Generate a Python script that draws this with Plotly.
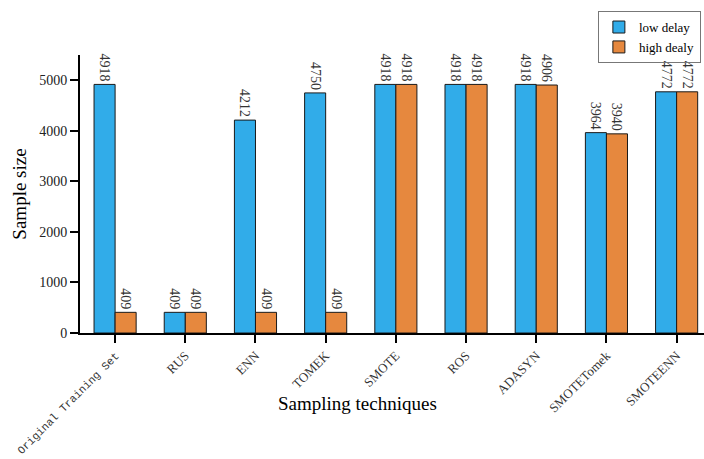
import plotly.graph_objects as go

categories = ["Original Training Set", "RUS", "ENN", "TOMEK", "SMOTE",
              "ROS", "ADASYN", "SMOTETomek", "SMOTEENN"]
low_delay = [4918, 409, 4212, 4750, 4918, 4918, 4918, 3964, 4772]
high_delay = [409, 409, 409, 409, 4918, 4918, 4906, 3940, 4772]
y_ticks = [0, 1000, 2000, 3000, 4000, 5000]

serif = "Liberation Serif, Times New Roman, serif"
mono = "Liberation Mono, Courier New, monospace"
x_idx = list(range(len(categories)))

# first label is set in a typewriter face, the rest in serif
tick_text = [f'<span style="font-family:{mono};font-size:11px">{categories[0]}</span>'] + categories[1:]


def bar_trace(values, name, color):
    return go.Bar(
        x=x_idx, y=values, name=name,
        marker=dict(color=color, line=dict(color="#1a1a1a", width=1)),
        text=[str(v) for v in values], textposition="outside", textangle=90,
        constraintext="none",
        textfont=dict(family=serif, size=14, color="#333333"), cliponaxis=False,
    )


fig = go.Figure()
fig.add_trace(bar_trace(low_delay, "low delay", "#31ACE9"))
fig.add_trace(bar_trace(high_delay, "high dealy", "#E6883E"))

fig.update_layout(
    width=704, height=459,
    barmode="group", bargap=0.4, bargroupgap=0,
    plot_bgcolor="white", paper_bgcolor="white",
    margin=dict(l=80, r=0, t=55, b=126),
    font=dict(family=serif, color="#000000"),
    legend=dict(
        x=0.995, xanchor="right", y=1.158, yanchor="top",
        bordercolor="#777777", borderwidth=1, bgcolor="rgba(255,255,255,0)",
        font=dict(family=serif, size=13), tracegroupgap=0,
        itemwidth=30,
    ),
    xaxis=dict(
        range=[-0.5, 8.39], tickmode="array", tickvals=x_idx,
        ticktext=tick_text, tickangle=-45, automargin=False,
        tickfont=dict(family=serif, size=13, color="#333333"),
        showline=True, linecolor="black", linewidth=2,
        ticks="outside", ticklen=8, tickwidth=2, tickcolor="black",
        showgrid=False, zeroline=False,
    ),
    yaxis=dict(
        range=[0, 5500], tickmode="array", tickvals=y_ticks, automargin=False,
        tickfont=dict(family=serif, size=14, color="#222222"),
        showline=True, linecolor="black", linewidth=2,
        ticks="outside", ticklen=8, tickwidth=2, tickcolor="black",
        showgrid=False, zeroline=False,
        title=dict(text="Sample size", font=dict(family=serif, size=19), standoff=8),
    ),
    annotations=[dict(
        text="Sampling techniques",
        x=(357 - 80) / (704 - 80), xref="paper",
        y=(333 - 403) / (333 - 55), yref="paper",
        xanchor="center", yanchor="middle",
        showarrow=False, font=dict(family=serif, size=19),
    )],
)

fig.write_html("out.html")
